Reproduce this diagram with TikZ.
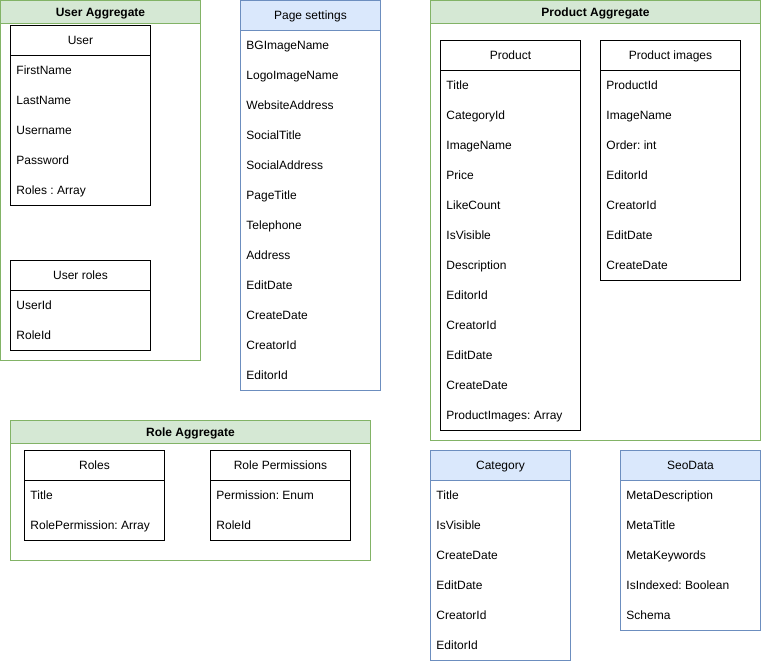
\documentclass[tikz,border=0pt]{standalone}
\usepackage{fontspec}
\setmainfont{Liberation Sans}
\frenchspacing
\definecolor{gfill}{HTML}{D5E8D4}
\definecolor{gline}{HTML}{82B366}
\definecolor{bfill}{HTML}{DAE8FC}
\definecolor{bline}{HTML}{6C8EBF}
\begin{document}
\begin{tikzpicture}[x=1pt,y=-1pt,
  font=\fontsize{12}{14}\selectfont\frenchspacing,
  line width=0.9pt,
  aggbox/.style={draw=gline, fill=white, anchor=north west, inner sep=0pt},
  agghead/.style={draw=gline, fill=gfill, anchor=north west, inner sep=0pt, minimum height=23pt, font=\fontsize{12}{14}\selectfont\bfseries, text height=8.6pt, text depth=0pt},
  classbox/.style={draw=black, fill=white, anchor=north west, inner sep=0pt},
  classhead/.style={draw=black, fill=white, anchor=north west, inner sep=0pt, minimum height=30pt, text height=8.6pt, text depth=0pt},
  bluebox/.style={draw=bline, fill=white, anchor=north west, inner sep=0pt},
  bluehead/.style={draw=bline, fill=bfill, anchor=north west, inner sep=0pt, minimum height=30pt, text height=8.6pt, text depth=0pt},
  rowtext/.style={anchor=west, inner sep=0pt, text height=8.6pt, text depth=0pt}
]
\useasboundingbox (0,0) rectangle (762,662);

% ---------- User Aggregate ----------
\node[aggbox, minimum width=200pt, minimum height=360pt] (ua) at (0,0) {};
\node[agghead, minimum width=200pt] (uah) at (0,0) {User Aggregate};

\node[classbox, minimum width=140pt, minimum height=180pt] (user) at (10,25) {};
\node[classhead, minimum width=140pt] (userh) at (10,25) {User};
\foreach \t [count=\i] in {FirstName,LastName,Username,Password,{Roles : Array}}
  \node[rowtext] (user-\i) at (16,{40+30*\i}) {\t};

\node[classbox, minimum width=140pt, minimum height=90pt] (uroles) at (10,260) {};
\node[classhead, minimum width=140pt] (urolesh) at (10,260) {User roles};
\foreach \t [count=\i] in {UserId,RoleId}
  \node[rowtext] (uroles-\i) at (16,{275+30*\i}) {\t};

% ---------- Page settings ----------
\node[bluebox, minimum width=140pt, minimum height=390pt] (page) at (240,0) {};
\node[bluehead, minimum width=140pt] (pageh) at (240,0) {Page settings};
\foreach \t [count=\i] in {BGImageName,LogoImageName,WebsiteAddress,SocialTitle,SocialAddress,PageTitle,Telephone,Address,EditDate,CreateDate,CreatorId,EditorId}
  \node[rowtext] (page-\i) at (246,{15+30*\i}) {\t};

% ---------- Product Aggregate ----------
\node[aggbox, minimum width=330pt, minimum height=440pt] (pa) at (430,0) {};
\node[agghead, minimum width=330pt] (pah) at (430,0) {Product Aggregate};

\node[classbox, minimum width=140pt, minimum height=390pt] (prod) at (440,40) {};
\node[classhead, minimum width=140pt] (prodh) at (440,40) {Product};
\foreach \t [count=\i] in {Title,CategoryId,ImageName,Price,LikeCount,IsVisible,Description,EditorId,CreatorId,EditDate,CreateDate,{ProductImages: Array}}
  \node[rowtext] (prod-\i) at (446,{55+30*\i}) {\t};

\node[classbox, minimum width=140pt, minimum height=240pt] (pimg) at (600,40) {};
\node[classhead, minimum width=140pt] (pimgh) at (600,40) {Product images};
\foreach \t [count=\i] in {ProductId,ImageName,{Order: int},EditorId,CreatorId,EditDate,CreateDate}
  \node[rowtext] (pimg-\i) at (606,{55+30*\i}) {\t};

% ---------- Role Aggregate ----------
\node[aggbox, minimum width=360pt, minimum height=140pt] (ra) at (10,420) {};
\node[agghead, minimum width=360pt] (rah) at (10,420) {Role Aggregate};

\node[classbox, minimum width=140pt, minimum height=90pt] (roles) at (24,450) {};
\node[classhead, minimum width=140pt] (rolesh) at (24,450) {Roles};
\foreach \t [count=\i] in {Title,{RolePermission: Array}}
  \node[rowtext] (roles-\i) at (30,{465+30*\i}) {\t};

\node[classbox, minimum width=140pt, minimum height=90pt] (rperm) at (210,450) {};
\node[classhead, minimum width=140pt] (rpermh) at (210,450) {Role Permissions};
\foreach \t [count=\i] in {{Permission: Enum},RoleId}
  \node[rowtext] (rperm-\i) at (216,{465+30*\i}) {\t};

% ---------- Category ----------
\node[bluebox, minimum width=140pt, minimum height=210pt] (cat) at (430,450) {};
\node[bluehead, minimum width=140pt] (cath) at (430,450) {Category};
\foreach \t [count=\i] in {Title,IsVisible,CreateDate,EditDate,CreatorId,EditorId}
  \node[rowtext] (cat-\i) at (436,{465+30*\i}) {\t};

% ---------- SeoData ----------
\node[bluebox, minimum width=140pt, minimum height=180pt] (seo) at (620,450) {};
\node[bluehead, minimum width=140pt] (seoh) at (620,450) {SeoData};
\foreach \t [count=\i] in {MetaDescription,MetaTitle,MetaKeywords,{IsIndexed: Boolean},Schema}
  \node[rowtext] (seo-\i) at (626,{465+30*\i}) {\t};
\end{tikzpicture}
\end{document}
